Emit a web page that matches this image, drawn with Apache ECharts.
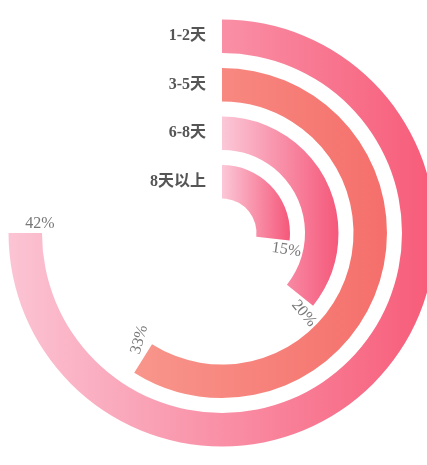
<!DOCTYPE html>
<html>
<head>
<meta charset="utf-8">
<style>
html,body{margin:0;padding:0;background:#fff;}
#chart{width:427px;height:465px;}
</style>
<script src="https://cdn.jsdelivr.net/npm/echarts@6/dist/echarts.min.js"></script>
</head>
<body>
<div id="chart"></div>
<script>
var categories = ['1-2天', '3-5天', '6-8天', '8天以上'];
var values = [42, 33, 20, 15];
var valueLabels = ['42%', '33%', '20%', '15%'];
var angleMax = 56;

var gradients = [
  ['#fbc4d4', '#f75b78'],
  ['#f8968c', '#f56f6b'],
  ['#fbc8d8', '#f5587a'],
  ['#fbc8d8', '#f5587a']
];

function radialRotate(v) {
  var theta = v / angleMax * 360;
  var phi = 90 - theta;
  while (phi <= -90) phi += 180;
  while (phi > 90) phi -= 180;
  return phi;
}

var seriesData = values.map(function (v, i) {
  return {
    value: v,
    itemStyle: {
      color: new echarts.graphic.LinearGradient(0, 0, 1, 0, [
        { offset: 0, color: gradients[i][0] },
        { offset: 1, color: gradients[i][1] }
      ])
    },
    label: { rotate: radialRotate(v), formatter: valueLabels[i] }
  };
});

var chart = echarts.init(document.getElementById('chart'));
chart.setOption({
  backgroundColor: '#ffffff',
  animation: false,
  polar: {
    center: [222, 233],
    radius: [27, 221]
  },
  angleAxis: {
    type: 'value',
    min: 0,
    max: angleMax,
    startAngle: 90,
    clockwise: true,
    show: false
  },
  radiusAxis: {
    type: 'category',
    data: categories,
    inverse: true,
    axisLine: { show: false },
    axisTick: { show: false },
    splitLine: { show: false },
    axisLabel: {
      show: true,
      interval: 0,
      margin: 16,
      color: '#555555',
      fontSize: 16,
      fontWeight: 'bold',
      fontFamily: '"Liberation Serif", "DejaVu Serif", "Noto Sans CJK SC", serif'
    },
    z: 10
  },
  series: [{
    type: 'bar',
    coordinateSystem: 'polar',
    data: seriesData,
    barCategoryGap: '31%',
    label: {
      show: true,
      position: 'end',
      distance: 9,
      color: '#777777',
      fontSize: 16,
      fontFamily: '"Liberation Serif", "DejaVu Serif", serif'
    }
  }]
});
</script>
</body>
</html>
